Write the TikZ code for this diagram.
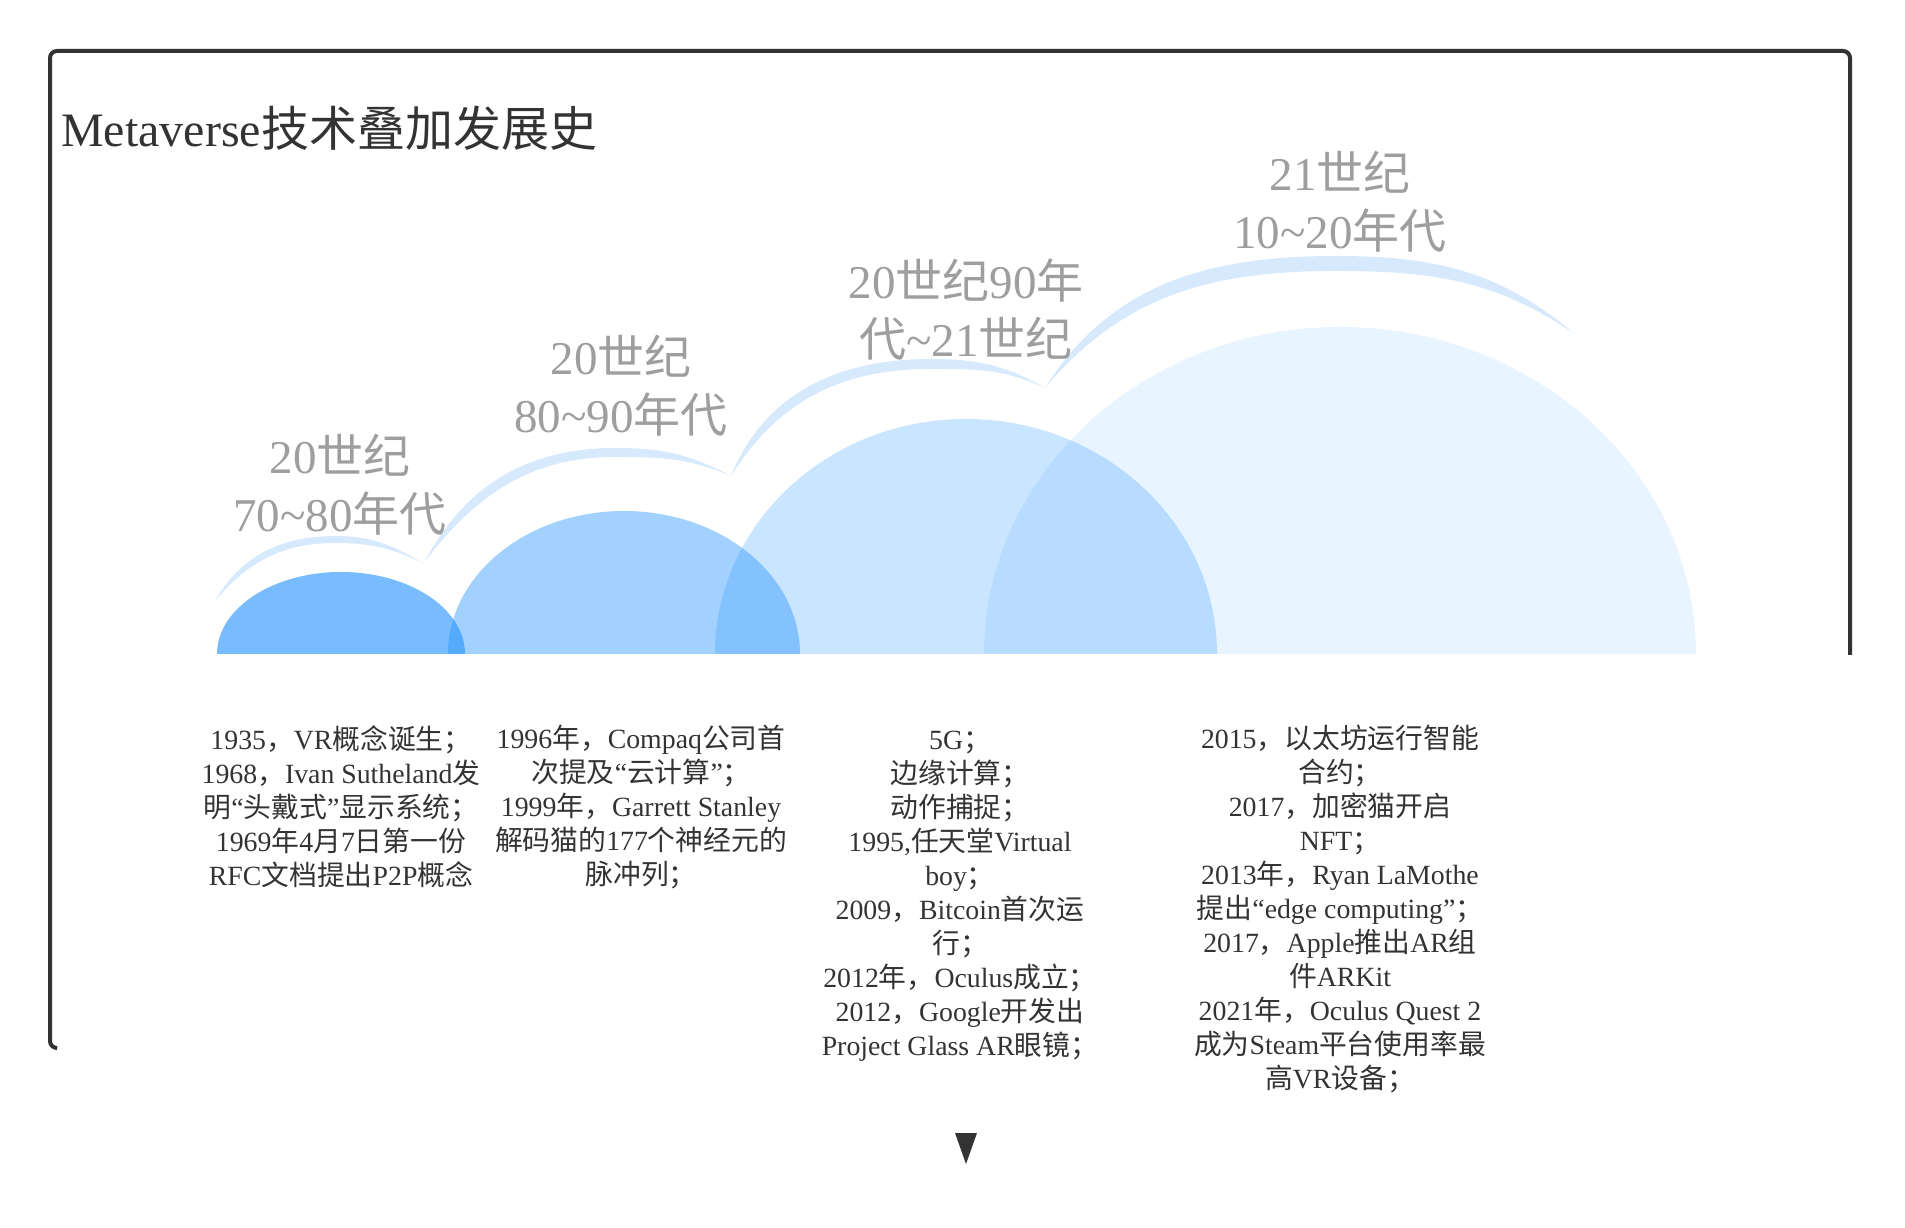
\documentclass[tikz,border=0pt]{standalone}
\usepackage{fontspec}
\usepackage{tikz}
\usetikzlibrary{positioning}
\setmainfont{Liberation Serif}
\newfontfamily\cjkfont{Noto Sans CJK SC}

% switch to the CJK font for Chinese characters
\XeTeXinterchartokenstate=1
\newXeTeXintercharclass\cjkcls
\newcount\cjkcnt
\cjkcnt="4E00 \loop\XeTeXcharclass\cjkcnt=\cjkcls\advance\cjkcnt by 1 \ifnum\cjkcnt<"A000 \repeat
\cjkcnt="3000 \loop\XeTeXcharclass\cjkcnt=\cjkcls\advance\cjkcnt by 1 \ifnum\cjkcnt<"3040 \repeat
\cjkcnt="FF00 \loop\XeTeXcharclass\cjkcnt=\cjkcls\advance\cjkcnt by 1 \ifnum\cjkcnt<"FFF0 \repeat
\XeTeXcharclass"201C=0
\XeTeXcharclass"201D=0
\XeTeXinterchartoks 0 \cjkcls={\cjkfont}
\XeTeXinterchartoks 4095 \cjkcls={\cjkfont}
\XeTeXinterchartoks \cjkcls 0={\rmfamily}
\XeTeXinterchartoks 4095 0={\rmfamily}

\definecolor{framegray}{RGB}{51,51,51}
\definecolor{labelgray}{RGB}{158,158,158}
\definecolor{domeblue}{RGB}{30,144,255}
\definecolor{arcblue}{RGB}{214,233,253}

\tikzset{
  dome/.style={fill=domeblue, draw=none},
  sickle/.style={fill=arcblue, draw=none},
  period/.style={text=labelgray, align=center, inner sep=0pt,
                 font=\fontsize{47}{58}\selectfont},
  events/.style={text=framegray, align=center, inner sep=0pt,
                 font=\fontsize{27.8}{34}\selectfont,
                 execute at begin node=\strut},
}

\begin{document}
\begin{tikzpicture}[x=1pt, y=1pt]
\useasboundingbox (0,0) rectangle (1905,1227);

% Frame
\draw[framegray, line width=4pt, rounded corners=7pt]
      (56,179) -- (50,179) -- (50,1176) -- (1850,1176) -- (1850,572);

% Title
\node[anchor=west, text=framegray, inner sep=0pt,
      font=\fontsize{48}{56}\selectfont] (title) at (61,1099)
      {Metaverse技术叠加发展史};

% Base points of the domes
\coordinate (d1) at (341,573);
\coordinate (d2) at (624,573);
\coordinate (d3) at (966,573);
\coordinate (d4) at (1340,573);

% Sickles above the domes
\fill[sickle] (215,626) to[out=60,in=180] (336,691) to[out=0,in=150] (423,664)
      to[out=155,in=0] (336,684) to[out=180,in=50] (215,626) -- cycle;
\fill[sickle] (425,666) to[out=62,in=180] (615,779) to[out=0,in=152] (731,751)
      to[out=157,in=0] (615,770) to[out=180,in=52] (425,666) -- cycle;
\fill[sickle] (731,751) to[out=68,in=180] (930,868) to[out=0,in=150] (1045,839)
      to[out=155,in=0] (930,858) to[out=180,in=58] (731,751) -- cycle;
\fill[sickle] (1045,839) to[out=58,in=180] (1336,971) to[out=0,in=140] (1575,893)
      to[out=146,in=0] (1336,956) to[out=180,in=50] (1045,839) -- cycle;

% Domes
\fill[dome, fill opacity=0.1] ([xshift=-356pt]d4)
      arc[start angle=180, end angle=0, x radius=356, y radius=327] -- cycle;
\fill[dome, fill opacity=0.235] ([xshift=-251pt]d3)
      arc[start angle=180, end angle=0, x radius=251, y radius=235] -- cycle;
\fill[dome, fill opacity=0.41] ([xshift=-176pt]d2)
      arc[start angle=180, end angle=0, x radius=176, y radius=143] -- cycle;
\fill[dome, fill opacity=0.6] ([xshift=-124pt]d1)
      arc[start angle=180, end angle=0, x radius=124, y radius=82] -- cycle;

% Periods
\node[period] (p1) at (340,742) {20世纪\\70\textasciitilde80年代};
\node[period] (p2) at (621,841) {20世纪\\80\textasciitilde90年代};
\node[period] (p3) at (966,917) {20世纪90年\\代\textasciitilde21世纪};
\node[period] (p4) at (1340,1025) {21世纪\\10\textasciitilde20年代};

% Events
\node[events, below=71pt of d1] (e1)
      {1935，VR概念诞生；\\1968，Ivan Sutheland发\\明“头戴式”显示系统；\\
       1969年4月7日第一份\\RFC文档提出P2P概念};
\node[events, below=71pt of d2, xshift=17pt] (e2)
      {1996年，Compaq公司首\\次提及“云计算”；\\1999年，Garrett Stanley\\
       解码猫的177个神经元的\\脉冲列；};
\node[events, below=77pt of d3, xshift=-6pt] (e3)
      {5G；\\边缘计算；\\动作捕捉；\\1995,任天堂Virtual\\boy；\\
       2009，Bitcoin首次运\\行；\\2012年，Oculus成立；\\2012，Google开发出\\
       Project Glass AR眼镜；};
\node[events, below=71pt of d4] (e4)
      {2015，以太坊运行智能\\合约；\\2017，加密猫开启\\NFT；\\
       2013年，Ryan LaMothe\\提出“edge computing”；\\2017，Apple推出AR组\\
       件ARKit\\2021年，Oculus Quest 2\\成为Steam平台使用率最\\高VR设备；};

% Pointer
\fill[framegray] (955,94) -- (977,94) -- (966,63) -- cycle;

\end{tikzpicture}
\end{document}
